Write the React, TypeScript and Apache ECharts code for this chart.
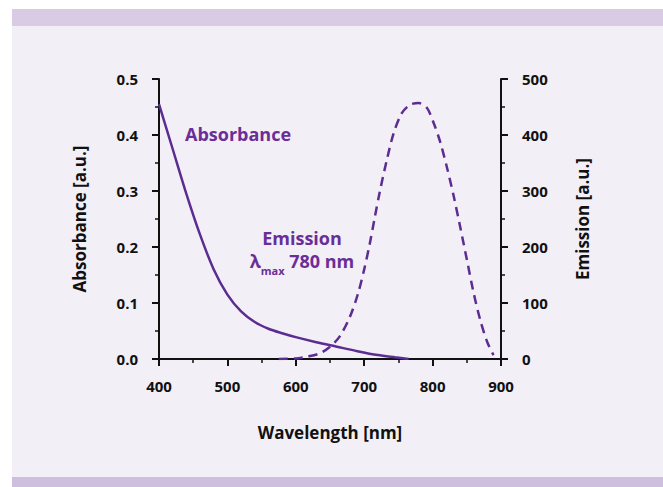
import React, { useEffect, useRef } from "react";
import * as echarts from "echarts";

const absWavelength = [400, 420, 440, 460, 480, 500, 520, 540, 560, 580, 600, 630, 660, 690, 720, 745, 765];
const absValue = [0.455, 0.375, 0.295, 0.222, 0.16, 0.115, 0.085, 0.066, 0.054, 0.046, 0.039, 0.03, 0.022, 0.014, 0.007, 0.003, 0];

const emWavelength = [575, 600, 615, 635, 650, 664, 679, 691, 700, 708, 715, 723, 733, 743, 755, 767, 780, 792, 802, 811, 821, 831, 840, 850, 860, 870, 880, 889];
const emValue = [0, 1, 4, 10, 22, 40, 75, 117, 160, 205, 250, 300, 355, 403, 439, 454, 457, 448, 420, 388, 342, 290, 238, 178, 118, 68, 30, 7];

const xTicks = { min: 400, max: 900, interval: 100 };
const absTicks = { min: 0, max: 0.5, interval: 0.1 };
const emTicks = { min: 0, max: 500, interval: 100 };

const FONT = "'Open Sans', 'Noto Sans', sans-serif";
const LINE = "#5c2d91";
const TEXTP = "#6b2d96";

export default function App() {
  const ref = useRef<HTMLDivElement>(null);
  useEffect(() => {
    if (!ref.current) return;
    const chart = echarts.init(ref.current, undefined, { renderer: "svg" });
    const axisCommon = {
      axisLine: { show: true, lineStyle: { color: "#111", width: 2 } },
      axisTick: { show: true, inside: false, length: 7, lineStyle: { color: "#111", width: 2 } },
      minorTick: { show: true, splitNumber: 2, length: 4, lineStyle: { color: "#111", width: 1.5 } },
      splitLine: { show: false },
      axisLabel: { color: "#111", fontFamily: FONT, fontWeight: "bold", fontSize: 15, margin: 14 },
      nameTextStyle: { color: "#111", fontFamily: FONT, fontWeight: "bold", fontSize: 17 },
    };
    chart.setOption({
      animation: false,
      backgroundColor: "#ffffff",
      graphic: [
        { type: "rect", z: -10, shape: { x: 12, y: 9, width: 663, height: 468 }, style: { fill: "#f2eff7" } },
        { type: "rect", z: -9, shape: { x: 12, y: 9, width: 663, height: 17 }, style: { fill: "#d9cbe4" } },
        { type: "rect", z: -9, shape: { x: 12, y: 477, width: 663, height: 12 }, style: { fill: "#cdbfdd" } },
        {
          type: "text",
          z: 10,
          style: { text: "Absorbance", x: 185, y: 134, verticalAlign: "middle", fill: TEXTP, fontFamily: FONT, fontWeight: "bold", fontSize: 18 },
        },
        {
          type: "text",
          z: 10,
          style: { text: "Emission", x: 302, y: 238, align: "center", verticalAlign: "middle", fill: TEXTP, fontFamily: FONT, fontWeight: "bold", fontSize: 18 },
        },
        {
          type: "text",
          z: 10,
          style: {
            text: "{l|λ}{s|max}{n| 780 nm}",
            x: 302,
            y: 261,
            align: "center",
            verticalAlign: "middle",
            fill: TEXTP,
            fontFamily: FONT,
            fontWeight: "bold",
            fontSize: 18,
            rich: {
              l: { fontFamily: FONT, fontWeight: "bold", fontSize: 18, fill: TEXTP, verticalAlign: "bottom" },
              s: { fontFamily: FONT, fontWeight: "bold", fontSize: 11, fill: TEXTP, verticalAlign: "bottom", padding: [0, 0, -6, 0] },
              n: { fontFamily: FONT, fontWeight: "bold", fontSize: 18, fill: TEXTP, verticalAlign: "bottom" },
            },
          },
        },
      ],
      grid: { left: 159, right: 162, top: 79, bottom: 128, containLabel: false },
      xAxis: {
        type: "value",
        ...xTicks,
        ...axisCommon,
        name: "Wavelength [nm]",
        nameLocation: "middle",
        nameGap: 65,
        axisLabel: { ...axisCommon.axisLabel, margin: 19 },
      },
      yAxis: [
        {
          type: "value",
          position: "left",
          ...absTicks,
          ...axisCommon,
          name: "Absorbance [a.u.]",
          nameLocation: "middle",
          nameGap: 71,
          axisLabel: { ...axisCommon.axisLabel, margin: 21, formatter: (v: number) => v.toFixed(1) },
        },
        {
          type: "value",
          position: "right",
          ...emTicks,
          ...axisCommon,
          name: "Emission [a.u.]",
          nameLocation: "middle",
          nameGap: 73,
          axisLabel: { ...axisCommon.axisLabel, margin: 21 },
        },
      ],
      series: [
        {
          type: "line",
          name: "Absorbance",
          yAxisIndex: 0,
          data: absWavelength.map((w, i) => [w, absValue[i]]),
          showSymbol: false,
          smooth: 0.3,
          lineStyle: { color: LINE, width: 2.5 },
          z: 3,
        },
        {
          type: "line",
          name: "Emission",
          yAxisIndex: 1,
          data: emWavelength.map((w, i) => [w, emValue[i]]),
          showSymbol: false,
          smooth: 0.3,
          lineStyle: { color: LINE, width: 2.5, type: [9, 6] },
          z: 3,
        },
      ],
    });
    return () => chart.dispose();
  }, []);
  return <div ref={ref} style={{ position: "absolute", left: 0, top: 0, width: 663, height: 487 }} />;
}
